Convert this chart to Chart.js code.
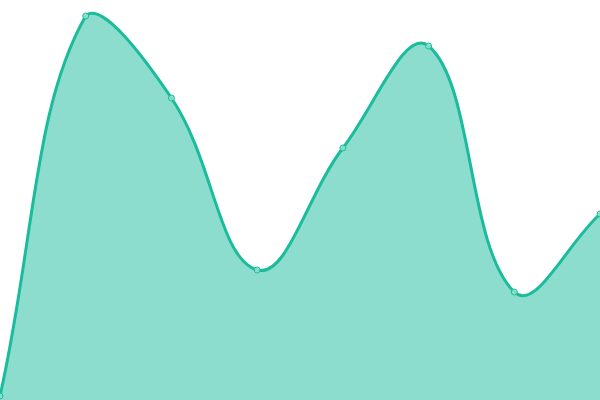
<!DOCTYPE html>
<html>
<head>
<meta charset="utf-8">
<script src="https://cdn.jsdelivr.net/npm/chart.js@4"></script>
<style>
  html, body { margin: 0; padding: 0; background: #fff; }
  #wrap { width: 600px; height: 400px; }
</style>
</head>
<body>
<div id="wrap"><canvas id="chart"></canvas></div>
<script>
// --- chart data ---
const labels = ['1', '2', '3', '4', '5', '6', '7', '8'];
const values = [1, 96, 75.5, 32.5, 63, 88.5, 27, 46.5];
const yMin = 0;
const yMax = 100;

const LINE_COLOR = '#1abc9c';
const FILL_COLOR = 'rgba(26, 188, 156, 0.5)';
const POINT_FILL = 'rgba(140, 225, 205, 0.9)';

const ctx = document.getElementById('chart').getContext('2d');
new Chart(ctx, {
    type: 'line',
    data: {
        labels: labels,
        datasets: [{
            data: values,
            borderColor: LINE_COLOR,
            backgroundColor: FILL_COLOR,
            pointBackgroundColor: POINT_FILL,
            pointBorderColor: LINE_COLOR,
            pointRadius: 3,
            pointBorderWidth: 1,
            borderWidth: 3,
            tension: 0.4,
            fill: true
        }]
    },
    options: {
        responsive: true,
        maintainAspectRatio: false,
        animation: false,
        layout: { padding: 0, autoPadding: false },
        scales: {
            x: { display: false },
            y: { display: false, min: yMin, max: yMax }
        },
        plugins: {
            legend: { display: false },
            tooltip: { enabled: false }
        }
    }
});
</script>
</body>
</html>
